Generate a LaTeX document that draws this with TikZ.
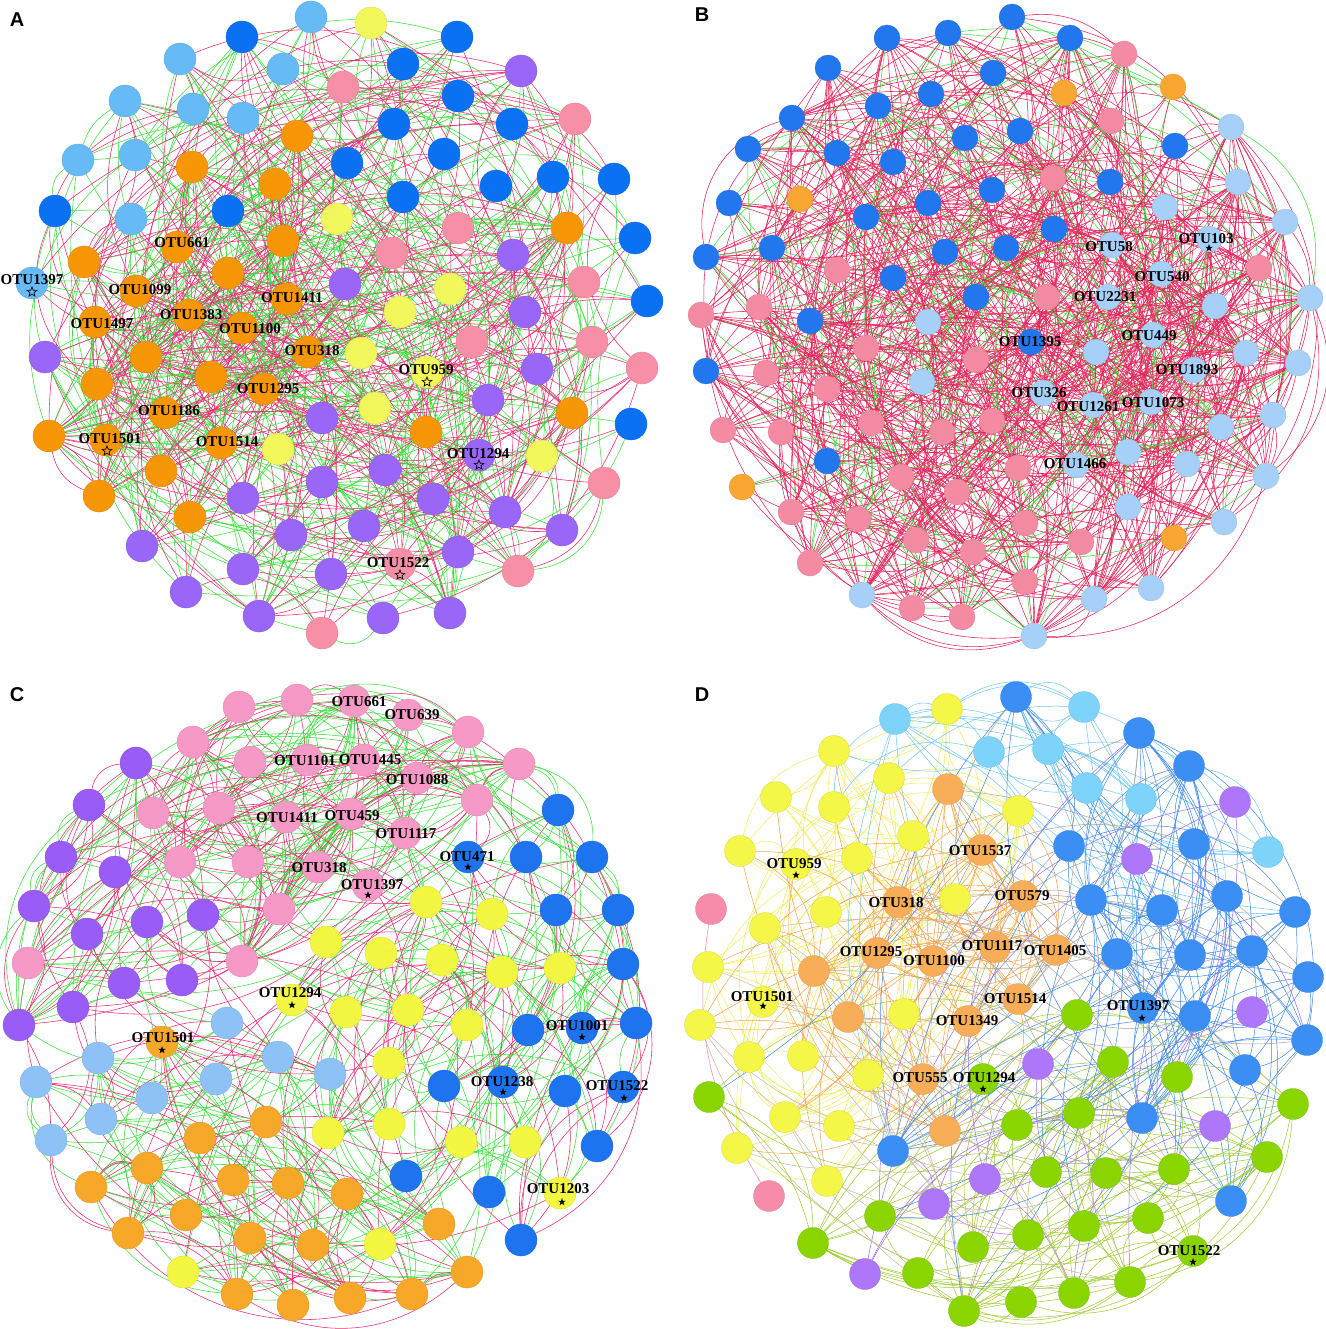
\documentclass[tikz,border=0pt]{standalone}
\usepackage{fontspec}
\setmainfont{Liberation Serif}
\newfontfamily\panelfont{Liberation Sans}
\usetikzlibrary{shapes.geometric}
\pgfdeclarelayer{back}
\pgfdeclarelayer{edges}
\pgfsetlayers{back,edges,main}
% node colours
\definecolor{AcLB}{HTML}{66BBF7}
\definecolor{AcB}{HTML}{0A72F2}
\definecolor{AcY}{HTML}{F2F75C}
\definecolor{AcPk}{HTML}{F78FA6}
\definecolor{AcPu}{HTML}{9966F7}
\definecolor{AcO}{HTML}{F79606}
\definecolor{BcB}{HTML}{2277EE}
\definecolor{BcLB}{HTML}{A6D0F8}
\definecolor{BcPk}{HTML}{F58BA2}
\definecolor{BcO}{HTML}{F9A633}
\definecolor{CcPk}{HTML}{F799C6}
\definecolor{CcPu}{HTML}{9A5CF6}
\definecolor{CcB}{HTML}{1E74EE}
\definecolor{CcY}{HTML}{F4F741}
\definecolor{CcLB}{HTML}{8EC2F6}
\definecolor{CcO}{HTML}{F8A828}
\definecolor{DcY}{HTML}{F4F648}
\definecolor{DcO}{HTML}{F8AE58}
\definecolor{DcC}{HTML}{7DD3FA}
\definecolor{DcB}{HTML}{3A8EF4}
\definecolor{DcPu}{HTML}{AE76F8}
\definecolor{DcG}{HTML}{8AD400}
\definecolor{DcPk}{HTML}{F68CAA}
% edge colours
\definecolor{EPk}{HTML}{EB2A74}
\definecolor{EGr}{HTML}{3CE03C}
\definecolor{EPkB}{HTML}{E5245C}
\definecolor{DeY}{HTML}{EEEE55}
\definecolor{DeO}{HTML}{F5A048}
\definecolor{DeC}{HTML}{6CC8F2}
\definecolor{DeB}{HTML}{3A88EE}
\definecolor{DeG}{HTML}{9CCB2A}
\definecolor{DePu}{HTML}{A066F5}
\definecolor{DeGr}{HTML}{A0A0A0}
\definecolor{DeT}{HTML}{C8B89A}
\tikzset{
  nA/.style={circle,inner sep=0pt,minimum size=32pt,fill=#1,draw=#1!88!black,line width=0.3pt},
  nB/.style={circle,inner sep=0pt,minimum size=26pt,fill=#1,draw=#1!88!black,line width=0.3pt},
  nC/.style={circle,inner sep=0pt,minimum size=32pt,fill=#1,draw=#1!88!black,line width=0.3pt},
  nD/.style={circle,inner sep=0pt,minimum size=31pt,fill=#1,draw=#1!88!black,line width=0.3pt},
  lbl/.style={font=\bfseries\fontsize{15}{15}\selectfont,inner sep=0pt,text=black},
  plbl/.style={font=\panelfont\bfseries\fontsize{20}{20}\selectfont,inner sep=0pt},
  starO/.style={star,star points=5,star point ratio=2.3,draw=black,line width=0.7pt,minimum size=10pt,inner sep=0pt},
  starF/.style={star,star points=5,star point ratio=2.6,fill=black,minimum size=8pt,inner sep=0pt},
  epk/.style={draw=EPk,line width=0.55pt},
  egr/.style={draw=EGr,line width=0.55pt},
  epkb/.style={draw=EPkB,line width=0.55pt},
  deY/.style={draw=DeY,line width=0.5pt},
  deO/.style={draw=DeO,line width=0.5pt},
  deC/.style={draw=DeC,line width=0.5pt},
  deB/.style={draw=DeB,line width=0.5pt},
  deG/.style={draw=DeG,line width=0.5pt},
  dePu/.style={draw=DePu,line width=0.5pt},
  deGr/.style={draw=DeGr,line width=0.5pt},
  deT/.style={draw=DeT,line width=0.5pt},
  dePk/.style={draw=DcPk,line width=0.55pt}
}
\newcommand\redges[9]{%
  \foreach \k in {1,...,#2}{%
    \pgfmathrandominteger{\rI}{#3}{#4}%
    \pgfmathrandominteger{\rJ}{#5}{#6}%
    \pgfmathrandominteger{\rB}{14}{42}%
    \pgfmathrandominteger{\rS}{0}{1}%
    \ifnum\rS=1\relax\edef\rB{-\rB}\fi
    \pgfmathrandominteger{\rC}{1}{100}%
    \ifnum\rI=\rJ\relax\else
      \ifnum\rC>#9\relax \draw[#8] (#1\rI) to[bend left=\rB] (#1\rJ);%
      \else \draw[#7] (#1\rI) to[bend left=\rB] (#1\rJ);\fi
    \fi}}
\begin{document}
\begin{tikzpicture}[x=1pt,y=-1pt]
\useasboundingbox (0,0) rectangle (1325,1329);
\begin{pgfonlayer}{back}
\fill[white] (0,0) rectangle (1325,1329);
\end{pgfonlayer}
\pgfmathsetseed{4711}
% ================= PANEL A =================
\node[plbl] (pA) at (17,20) {A};
\foreach \n/\x/\y in {1/311/17,2/180/59,3/283/69,4/125/101,5/193/109,6/243/118,7/78/160,8/135/155,9/131/219,10/32/283}
  \node[nA=AcLB] (a\n) at (\x,\y) {};
\foreach \n/\x/\y in {11/242/37,12/457/37,13/403/64,14/458/96,15/394/124,16/512/124,17/444/154,18/347/163,19/496/186,20/553/177,21/614/179,22/403/197,23/55/211,24/228/211,25/635/238,26/647/301,27/631/424}
  \node[nA=AcB] (a\n) at (\x,\y) {};
\foreach \n/\x/\y in {28/371/23,29/337/219,30/450/289,31/400/312,32/361/353,33/427/372,34/375/408,35/278/449,36/542/456}
  \node[nA=AcY] (a\n) at (\x,\y) {};
\foreach \n/\x/\y in {37/343/87,38/575/119,39/458/228,40/392/253,41/584/282,42/472/342,43/592/342,44/642/368,45/604/483,46/400/564,47/518/571,48/322/633}
  \node[nA=AcPk] (a\n) at (\x,\y) {};
\foreach \n/\x/\y in {49/521/71,50/513/255,51/345/284,52/525/312,53/45/357,54/537/369,55/488/400,56/322/418,57/479/455,58/322/482,59/385/470,60/243/498,61/433/499,62/505/512,63/291/535,64/364/526,65/562/530,66/142/546,67/458/552,68/243/569,69/331/574,70/186/592,71/259/616,72/383/618,73/450/613}
  \node[nA=AcPu] (a\n) at (\x,\y) {};
\foreach \n/\x/\y in {74/297/136,75/192/167,76/275/184,77/283/241,78/567/228,79/84/262,80/177/247,81/228/273,82/136/291,83/287/299,84/95/322,85/189/315,86/242/328,87/146/357,88/308/352,89/97/384,90/211/377,91/264/389,92/572/413,93/165/413,94/49/436,95/106/440,96/221/443,97/426/432,98/161/471,99/99/496,100/190/517}
  \node[nA=AcO] (a\n) at (\x,\y) {};
\begin{pgfonlayer}{edges}
\redges{a}{330}{1}{100}{1}{100}{epk}{egr}{55}
\redges{a}{170}{74}{100}{74}{100}{epk}{egr}{60}
\redges{a}{120}{74}{100}{1}{73}{epk}{egr}{55}
\redges{a}{70}{49}{73}{28}{73}{epk}{egr}{50}
\end{pgfonlayer}
\node[lbl] (tA1) at (182,243) {OTU661};
\node[lbl] (tA2) at (32,280) {OTU1397};
\node[starO] (sA2) at (32,292) {};
\node[lbl] (tA3) at (140,290) {OTU1099};
\node[lbl] (tA4) at (292,298) {OTU1411};
\node[lbl] (tA5) at (102,324) {OTU1497};
\node[lbl] (tA6) at (191,315) {OTU1383};
\node[lbl] (tA7) at (250,329) {OTU1100};
\node[lbl] (tA8) at (312,351) {OTU318};
\node[lbl] (tA9) at (426,370) {OTU959};
\node[starO] (sA9) at (427,382) {};
\node[lbl] (tA10) at (268,389) {OTU1295};
\node[lbl] (tA11) at (169,411) {OTU1186};
\node[lbl] (tA12) at (110,439) {OTU1501};
\node[starO] (sA12) at (107,451) {};
\node[lbl] (tA13) at (227,442) {OTU1514};
\node[lbl] (tA14) at (478,454) {OTU1294};
\node[starO] (sA14) at (479,465) {};
\node[lbl] (tA15) at (398,563) {OTU1522};
\node[starO] (sA15) at (400,575) {};
% ================= PANEL B =================
\node[plbl] (pB) at (702,15) {B};
\foreach \n/\x/\y in {1/1012/17,2/948/33,3/887/38,4/1070/38,5/828/68,6/993/73,7/931/94,8/878/106,9/792/118,10/748/149,11/837/153,12/965/138,13/1020/131,14/1175/146,15/893/162,16/1110/182,17/729/203,18/992/190,19/928/203,20/866/217,21/1054/229,22/706/257,23/772/248,24/945/252,25/1006/248,26/893/278,27/976/297,28/810/321,29/1031/342,30/706/371,31/827/461}
  \node[nB=BcB] (b\n) at (\x,\y) {};
\foreach \n/\x/\y in {32/1064/93,33/1173/87,34/800/199,35/742/487,36/1174/538}
  \node[nB=BcO] (b\n) at (\x,\y) {};
\foreach \n/\x/\y in {37/1124/54,38/1111/121,39/1053/178,40/837/270,41/1259/268,42/1047/297,43/701/315,44/759/307,45/866/348,46/976/360,47/766/373,48/827/389,49/723/430,50/781/432,51/871/423,52/942/432,53/992/421,54/1018/468,55/901/477,56/957/492,57/791/512,58/858/519,59/1025/523,60/916/540,61/973/552,62/1081/542,63/810/563,64/1025/582,65/912/608,66/962/617}
  \node[nB=BcPk] (b\n) at (\x,\y) {};
\foreach \n/\x/\y in {67/1231/127,68/1238/182,69/1165/207,70/1285/222,71/1112/245,72/1209/239,73/1161/274,74/1108/297,75/1215/306,76/1310/298,77/928/322,78/1153/335,79/1096/352,80/1246/353,81/1298/363,82/1194/370,83/922/382,84/1043/393,85/1093/405,86/1151/402,87/1273/415,88/1221/427,89/1128/452,90/1076/465,91/1187/464,92/1266/476,93/1128/507,94/1224/522,95/862/595,96/1151/588,97/1094/599,98/1034/636}
  \node[nB=BcLB] (b\n) at (\x,\y) {};
\begin{pgfonlayer}{edges}
\redges{b}{260}{1}{98}{1}{98}{epkb}{egr}{85}
\redges{b}{260}{67}{98}{67}{98}{epkb}{egr}{88}
\redges{b}{130}{37}{66}{37}{66}{epkb}{egr}{85}
\redges{b}{110}{1}{31}{37}{66}{epkb}{egr}{85}
\redges{b}{120}{1}{31}{67}{98}{epkb}{egr}{72}
\redges{b}{60}{1}{31}{1}{31}{epkb}{egr}{90}
\end{pgfonlayer}
\node[lbl] (tB1) at (1109,247) {OTU58};
\node[lbl] (tB2) at (1206,239) {OTU103};
\node[starF] (sB2) at (1209,248) {};
\node[lbl] (tB3) at (1162,277) {OTU540};
\node[lbl] (tB4) at (1105,297) {OTU2231};
\node[lbl] (tB5) at (1149,336) {OTU449};
\node[lbl] (tB6) at (1030,342) {OTU1395};
\node[lbl] (tB7) at (1187,370) {OTU1893};
\node[lbl] (tB8) at (1039,393) {OTU326};
\node[lbl] (tB9) at (1088,407) {OTU1261};
\node[lbl] (tB10) at (1153,403) {OTU1073};
\node[lbl] (tB11) at (1075,464) {OTU1466};
% ================= PANEL C =================
\node[plbl] (pC) at (17,695) {C};
\foreach \n/\x/\y in {1/239/707,2/297/700,3/354/701,4/408/715,5/468/732,6/193/742,7/519/764,8/250/762,9/307/760,10/364/760,11/417/778,12/477/800,13/153/813,14/219/808,15/286/817,16/351/814,17/405/833,18/180/862,19/248/862,20/318/867,21/368/885,22/279/909,23/28/963,24/242/961}
  \node[nC=CcPk] (c\n) at (\x,\y) {};
\foreach \n/\x/\y in {25/136/763,26/89/805,27/61/857,28/115/872,29/34/906,30/203/915,31/147/922,32/87/934,33/124/983,34/182/980,35/73/1007,36/19/1025}
  \node[nC=CcPu] (c\n) at (\x,\y) {};
\foreach \n/\x/\y in {37/558/810,38/468/857,39/526/857,40/592/857,41/556/910,42/618/910,43/623/964,44/528/1030,45/582/1028,46/636/1023,47/444/1086,48/503/1082,49/565/1091,50/623/1087,51/597/1146,52/406/1176,53/489/1192,54/521/1240}
  \node[nC=CcB] (c\n) at (\x,\y) {};
\foreach \n/\x/\y in {55/426/902,56/492/914,57/326/942,58/381/953,59/442/960,60/502/972,61/560/968,62/292/1000,63/346/1012,64/408/1010,65/467/1025,66/389/1063,67/328/1133,68/389/1124,69/461/1142,70/525/1142,71/560/1193,72/380/1244,73/183/1272}
  \node[nC=CcY] (c\n) at (\x,\y) {};
\foreach \n/\x/\y in {74/227/1023,75/98/1058,76/278/1057,77/36/1082,78/216/1079,79/330/1074,80/152/1098,81/101/1119,82/51/1140}
  \node[nC=CcLB] (c\n) at (\x,\y) {};
\foreach \n/\x/\y in {83/162/1042,84/266/1122,85/200/1138,86/147/1168,87/91/1187,88/233/1180,89/288/1183,90/347/1194,91/186/1215,92/128/1233,93/439/1224,94/250/1238,95/313/1245,96/467/1272,97/237/1294,98/293/1305,99/350/1298,100/412/1294}
  \node[nC=CcO] (c\n) at (\x,\y) {};
\begin{pgfonlayer}{edges}
\redges{c}{170}{1}{24}{1}{24}{epk}{egr}{50}
\redges{c}{45}{25}{36}{25}{36}{epk}{egr}{60}
\redges{c}{40}{25}{36}{6}{24}{epk}{egr}{55}
\redges{c}{70}{37}{54}{37}{54}{epk}{egr}{50}
\redges{c}{70}{55}{73}{55}{73}{epk}{egr}{55}
\redges{c}{35}{55}{73}{37}{54}{epk}{egr}{50}
\redges{c}{30}{74}{82}{74}{82}{epk}{egr}{40}
\redges{c}{35}{74}{82}{83}{100}{epk}{egr}{45}
\redges{c}{90}{83}{100}{83}{100}{epk}{egr}{50}
\redges{c}{30}{83}{100}{55}{73}{epk}{egr}{50}
\redges{c}{18}{12}{24}{55}{66}{epk}{egr}{50}
\redges{c}{18}{5}{12}{37}{43}{epk}{egr}{50}
\redges{c}{15}{29}{36}{74}{82}{epk}{egr}{50}
\end{pgfonlayer}
\node[lbl] (tC1) at (359,702) {OTU661};
\node[lbl] (tC2) at (412,715) {OTU639};
\node[lbl] (tC3) at (305,761) {OTU1101};
\node[lbl] (tC4) at (370,760) {OTU1445};
\node[lbl] (tC5) at (417,780) {OTU1088};
\node[lbl] (tC6) at (287,818) {OTU1411};
\node[lbl] (tC7) at (352,816) {OTU459};
\node[lbl] (tC8) at (406,834) {OTU1117};
\node[lbl] (tC9) at (319,868) {OTU318};
\node[lbl] (tC10) at (467,857) {OTU471};
\node[starF] (sC10) at (468,867) {};
\node[lbl] (tC11) at (372,885) {OTU1397};
\node[starF] (sC11) at (368,895) {};
\node[lbl] (tC12) at (290,993) {OTU1294};
\node[starF] (sC12) at (292,1005) {};
\node[lbl] (tC13) at (163,1038) {OTU1501};
\node[starF] (sC13) at (162,1050) {};
\node[lbl] (tC14) at (577,1026) {OTU1001};
\node[starF] (sC14) at (582,1037) {};
\node[lbl] (tC15) at (502,1082) {OTU1238};
\node[starF] (sC15) at (503,1092) {};
\node[lbl] (tC16) at (617,1086) {OTU1522};
\node[starF] (sC16) at (624,1098) {};
\node[lbl] (tC17) at (558,1189) {OTU1203};
\node[starF] (sC17) at (562,1202) {};
% ================= PANEL D =================
\node[plbl] (pD) at (702,695) {D};
\foreach \n/\x/\y in {1/947/709,2/834/751,3/889/778,4/776/797,5/834/807,6/1018/811,7/913/836,8/740/851,9/796/864,10/857/858,11/826/912,12/955/899,13/765/928,14/708/967,15/763/1002,16/700/1025,17/904/1014,18/749/1057,19/803/1056,20/868/1075,21/785/1117,22/839/1126,23/737/1148,24/827/1181}
  \node[nD=DcY] (d\n) at (\x,\y) {};
\foreach \n/\x/\y in {25/948/789,26/982/850,27/898/902,28/1023/896,29/814/971,30/877/953,31/933/961,32/995/947,33/1056/950,34/1018/999,35/848/1017,36/968/1021,37/923/1079,38/945/1131}
  \node[nD=DcO] (d\n) at (\x,\y) {};
\foreach \n/\x/\y in {39/895/719,40/1084/707,41/989/752,42/1048/749,43/1087/788,44/1141/799,45/1268/852}
  \node[nD=DcC] (d\n) at (\x,\y) {};
\foreach \n/\x/\y in {46/1016/697,47/1139/733,48/1189/766,49/1069/846,50/1194/844,51/1091/900,52/1162/910,53/1227/896,54/1295/912,55/1117/954,56/1190/955,57/1252/951,58/1308/977,59/1143/1008,60/1195/1016,61/1307/1040,62/1245/1070,63/1142/1118,64/893/1151,65/1231/1201}
  \node[nD=DcB] (d\n) at (\x,\y) {};
\foreach \n/\x/\y in {66/1235/802,67/1137/859,68/1252/1012,69/1038/1064,70/1215/1126,71/985/1179,72/934/1204,73/865/1274}
  \node[nD=DcPu] (d\n) at (\x,\y) {};
\foreach \n/\x/\y in {74/1077/1015,75/1113/1062,76/1177/1077,77/709/1097,78/983/1079,79/1017/1125,80/1079/1113,81/1293/1104,82/1267/1157,83/1046/1172,84/1106/1173,85/1174/1169,86/880/1216,87/1148/1218,88/1028/1235,89/1084/1226,90/813/1243,91/973/1247,92/1193/1251,93/918/1273,94/1130/1282,95/1021/1302,96/1074/1293,97/964/1311}
  \node[nD=DcG] (d\n) at (\x,\y) {};
\foreach \n/\x/\y in {98/711/909,99/769/1196}
  \node[nD=DcPk] (d\n) at (\x,\y) {};
\begin{pgfonlayer}{edges}
\redges{d}{95}{1}{24}{1}{24}{deY}{deY}{100}
\redges{d}{70}{25}{38}{25}{38}{deO}{deO}{100}
\redges{d}{50}{25}{38}{1}{24}{deO}{deO}{100}
\redges{d}{18}{39}{45}{39}{45}{deC}{deC}{100}
\redges{d}{22}{39}{45}{46}{65}{deC}{deC}{100}
\redges{d}{8}{39}{41}{1}{6}{deC}{deC}{100}
\redges{d}{85}{46}{65}{46}{65}{deB}{deB}{100}
\redges{d}{105}{74}{97}{74}{97}{deG}{deG}{100}
\redges{d}{22}{66}{73}{46}{97}{dePu}{dePu}{100}
\redges{d}{35}{25}{38}{46}{65}{deGr}{deGr}{100}
\redges{d}{22}{13}{24}{74}{97}{deT}{deT}{100}
\redges{d}{25}{74}{97}{46}{65}{deB}{deB}{100}
\draw[dePk] (d98) to[bend right=20] (d99);
\end{pgfonlayer}
\node[lbl] (tD1) at (794,864) {OTU959};
\node[starF] (sD1) at (796,875) {};
\node[lbl] (tD2) at (980,851) {OTU1537};
\node[lbl] (tD3) at (896,903) {OTU318};
\node[lbl] (tD4) at (1022,896) {OTU579};
\node[lbl] (tD5) at (871,952) {OTU1295};
\node[lbl] (tD6) at (934,961) {OTU1100};
\node[lbl] (tD7) at (992,946) {OTU1117};
\node[lbl] (tD8) at (1055,951) {OTU1405};
\node[lbl] (tD9) at (762,997) {OTU1501};
\node[starF] (sD9) at (763,1006) {};
\node[lbl] (tD10) at (1015,999) {OTU1514};
\node[lbl] (tD11) at (967,1021) {OTU1349};
\node[lbl] (tD12) at (1138,1006) {OTU1397};
\node[starF] (sD12) at (1142,1018) {};
\node[lbl] (tD13) at (920,1078) {OTU555};
\node[lbl] (tD14) at (984,1078) {OTU1294};
\node[starF] (sD14) at (983,1089) {};
\node[lbl] (tD15) at (1189,1251) {OTU1522};
\node[starF] (sD15) at (1193,1262) {};
\end{tikzpicture}
\end{document}
